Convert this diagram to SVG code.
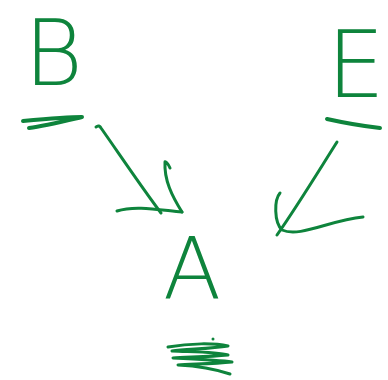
<svg xmlns="http://www.w3.org/2000/svg" width="388" height="380" viewBox="0 0 388 380">
<style>
.ink{fill:none;stroke:#0e843c;stroke-width:3;stroke-linecap:round;stroke-linejoin:round}
.thick{stroke-width:4}
.lt{font-family:"DejaVu Sans",sans-serif;font-weight:200;fill:#0e843c}
</style>
<rect width="388" height="380" fill="#fff"/>
<g id="node-B">
<text class="lt" x="24" y="85" font-size="90">B</text>
<path class="ink thick" d="M23,121 C45,119 68,117 82,117 C65,121 45,126 29,128"/>
</g>
<g id="node-E">
<text class="lt" x="385" y="97" font-size="92" text-anchor="end">E</text>
<path class="ink thick" d="M327,119 C345,123 362,126 380,128"/>
</g>
<g id="node-A">
<text class="lt" x="163" y="299" font-size="85">A</text>
</g>
<g id="node-scribble">
<path class="ink" d="M168,347 C190,343 215,343 228,346 C210,349 185,349 172,351 C195,352 218,352 228,355 C208,357 185,357 173,358 C195,359 220,360 232,362 C212,364 190,364 178,365 C198,366 215,369 230,374"/>
<circle cx="213" cy="339" r="1.5" fill="#0e843c"/>
</g>
<g id="connectors">
<path class="ink" d="M96,127 C98,125 100,126 101,128 C120,155 140,185 161,213"/>
<path class="ink" d="M117,211 C135,205 160,210 182,212"/>
<path class="ink" d="M170,168 C168,163 165,161 165,162 C164,180 172,196 182,212"/>
<path class="ink" d="M337,142 C318,172 298,205 277,235"/>
<path class="ink" d="M280,193 C274,200 274,222 282,230 C300,238 330,220 363,217"/>
</g>
</svg>
